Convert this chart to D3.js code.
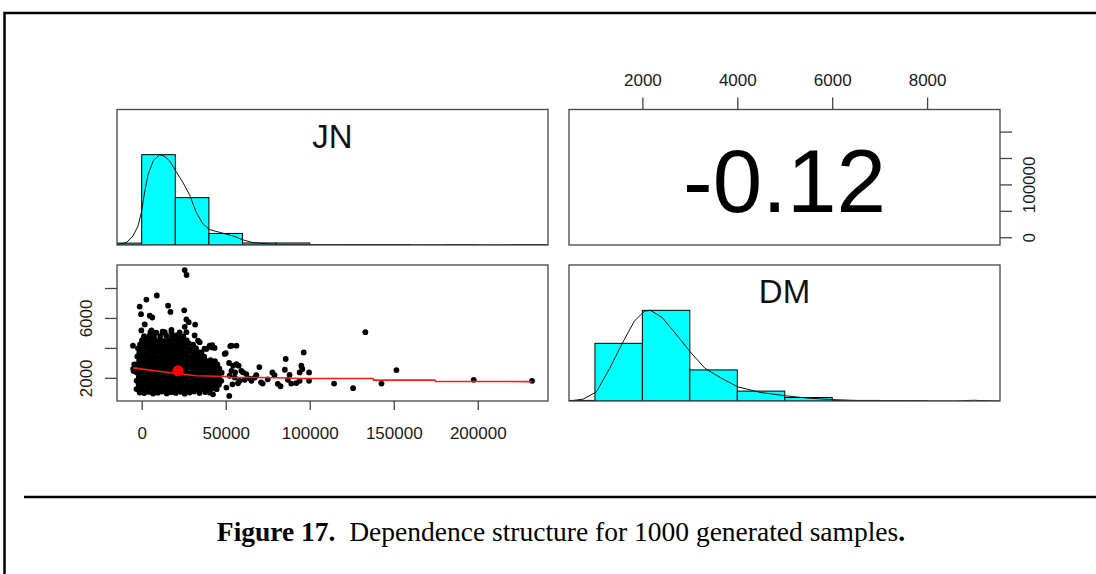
<!DOCTYPE html>
<html>
<head>
<meta charset="utf-8">
<script src="https://cdn.jsdelivr.net/npm/d3@7"></script>
<style>
  html, body { margin: 0; padding: 0; background: #fff; }
  svg { display: block; }
</style>
</head>
<body>
<svg id="fig" width="1096" height="574"></svg>
<script>
// ---------------- data ----------------
const varNames = ["JN", "DM"];
const corrLabel = "-0.12";

// histogram of JN (bin edges and counts)
const jnBreaks = [-20000, 0, 20000, 40000, 60000, 80000, 100000, 120000, 140000, 160000, 180000, 200000, 220000, 240000];
const jnCounts = [12, 578, 303, 74, 13, 13, 1, 2, 2, 0, 1, 0, 1];
// kernel density of JN (scaled so the peak is 1)
const jnDensX = [-14700, -9100, -5200, -2200, -200, 1800, 3800, 6800, 10700, 13700, 16700, 20600, 24600, 28600, 32500, 36500, 40500, 46400, 54400, 60300, 66300, 80200, 100000, 140000, 241800];
const jnDensY = [0.007, 0.026, 0.10, 0.21, 0.36, 0.59, 0.78, 0.93, 1.0, 0.98, 0.93, 0.81, 0.69, 0.55, 0.36, 0.23, 0.17, 0.14, 0.10, 0.056, 0.026, 0.007, 0.004, 0.002, 0.001];

// histogram of DM
const dmBreaks = [0, 1000, 2000, 3000, 4000, 5000, 6000, 7000, 8000, 9000, 10000];
const dmCounts = [3, 297, 467, 160, 51, 18, 3, 1, 0, 0];
// kernel density of DM (scaled so the peak is 1)
const dmDensX = [454, 750, 1030, 1310, 1580, 1830, 2040, 2170, 2420, 2690, 3010, 3320, 3670, 4010, 4500, 5040, 5470, 6010, 6580, 7560, 8600, 8860, 8990, 9120, 9536];
const dmDensY = [0.0, 0.02, 0.10, 0.36, 0.64, 0.88, 0.99, 1.0, 0.92, 0.75, 0.54, 0.36, 0.25, 0.156, 0.093, 0.056, 0.033, 0.015, 0.004, 0.0, 0.0, 0.006, 0.008, 0.005, 0.0];

// JN / DM sample pairs: the dense core
const coreSamples = [
  [-1200,1020],[1500,980],[4300,1060],[6800,950],[9600,1010],[12100,1080],[14900,960],[17400,1040],[20300,990],[23000,1070],[25600,940],[28500,1020],[31200,1090],[34400,980],[37800,1050],[40600,1010],
  [-3100,1250],[-400,1290],[2300,1230],[4900,1310],[7600,1260],[10200,1280],[12800,1240],[15500,1300],[18100,1270],[20800,1220],[23300,1290],[26100,1260],[28700,1310],[31400,1250],[34000,1280],[36700,1230],[39300,1270],[42000,1300],[44600,1240],
  [-1800,1540],[900,1510],[3600,1570],[6200,1530],[8800,1560],[11500,1500],[14200,1550],[16800,1580],[19400,1520],[22100,1560],[24700,1530],[27400,1590],[30000,1510],[32700,1550],[35300,1570],[38000,1520],[40600,1560],[43300,1500],[46000,1540],
  [-3000,1810],[-300,1780],[2400,1840],[5000,1800],[7700,1830],[10300,1770],[13000,1820],[15600,1850],[18300,1790],[20900,1830],[23600,1800],[26200,1860],[28900,1780],[31500,1820],[34200,1840],[36800,1790],[39500,1830],[42100,1770],[44800,1820],[47400,1800],
  [-1700,2080],[1000,2050],[3700,2110],[6300,2070],[9000,2100],[11600,2040],[14300,2090],[16900,2120],[19600,2060],[22200,2100],[24900,2070],[27500,2130],[30200,2050],[32800,2090],[35500,2110],[38100,2060],[40800,2100],[43400,2040],[46100,2080],
  [-2900,2350],[-200,2320],[2500,2380],[5100,2340],[7800,2370],[10400,2310],[13100,2360],[15700,2390],[18400,2330],[21000,2370],[23700,2340],[26300,2400],[29000,2320],[31600,2360],[34300,2380],[36900,2330],[39600,2370],[42200,2310],[44900,2360],[47600,2340],
  [-1600,2620],[1100,2590],[3800,2650],[6400,2610],[9100,2640],[11700,2580],[14400,2630],[17000,2660],[19700,2600],[22300,2640],[25000,2610],[27600,2670],[30300,2590],[32900,2630],[35600,2650],[38200,2600],[40900,2640],[43500,2580],[46200,2620],
  [-2800,2890],[-100,2860],[2600,2920],[5200,2880],[7900,2910],[10500,2850],[13200,2900],[15800,2930],[18500,2870],[21100,2910],[23800,2880],[26400,2940],[29100,2860],[31700,2900],[34400,2920],[37000,2870],[39700,2910],[42300,2850],[45000,2900],
  [-1500,3160],[1200,3130],[3900,3190],[6500,3150],[9200,3180],[11800,3120],[14500,3170],[17100,3200],[19800,3140],[22400,3180],[25100,3150],[27700,3210],[30400,3130],[33000,3170],[35700,3190],[38300,3140],[41000,3180],[43600,3120],
  [-2600,3430],[100,3400],[2800,3460],[5400,3420],[8100,3450],[10700,3390],[13400,3440],[16000,3470],[18700,3410],[21300,3450],[24000,3420],[26600,3480],[29300,3400],[31900,3440],[34600,3460],[37200,3410],
  [-1400,3700],[1300,3670],[4000,3730],[6600,3690],[9300,3720],[11900,3660],[14600,3710],[17200,3740],[19900,3680],[22500,3720],[25200,3690],[27800,3750],[30500,3670],[33100,3710],[35600,3690],
  [-2200,3970],[500,3940],[3200,4000],[5800,3960],[8500,3990],[11100,3930],[13800,3980],[16400,4010],[19100,3950],[21700,3990],[24400,3960],[27000,4020],[29700,3940],[32300,3980],
  [-1000,4240],[1700,4210],[4400,4270],[7000,4230],[9700,4260],[12300,4200],[15000,4250],[17600,4280],[20300,4220],[22900,4260],[25600,4230],[28200,4290],[30600,4210],
  [200,4510],[2900,4480],[5600,4540],[8200,4500],[10900,4530],[13500,4470],[16200,4520],[18800,4550],[21500,4490],[24100,4530],[26800,4500],
  [1400,4780],[4700,4810],[7300,4750],[11000,4790],[14600,4820],[18000,4760],[21900,4800],[24800,4770],
  [5200,5060],[8600,5020],[12400,5080],[17700,5050],[22600,5030]
];

// scattered points around the core
const fringeSamples = [
  [25600,9200],[26700,8870],[9000,7500],[2800,7230],[-1200,6760],[-400,6250],[15700,6820],[17100,6400],[25300,6510],
  [4800,6150],[6300,6030],[26600,5900],[31800,5560],[25600,5410],[28000,5720],[1800,5570],[5800,5170],[-200,5170],
  [6700,4830],[2800,4600],[13700,5050],[17700,5210],[20600,4830],[26600,5050],[31500,4830],[33500,4490],[34500,4380],
  [38500,3930],[41500,4040],[43400,4000],[-5200,4150],[49400,3600],[53400,4150],[56400,4150],[52700,4120],[50000,3650],
  [40400,4150],[42000,4180],[37400,3950],[34700,3700],[42400,900],[52100,790],[-5100,2600],[-4800,2450],[-4400,2900],
  [52000,2990],[54400,2810],[56400,2920],[57700,2810],[53400,2470],[55600,2360],[59300,2470],[60300,2360],[62300,2250],
  [52400,2140],[55400,2020],[58300,1800],[61300,1870],[64300,1950],[65300,1800],[67300,2020],[68200,2180],[54000,1570],
  [57300,1640],[50400,1350]
];

// sparse points in the long right tail
const tailSamples = [
  [96400,3700],[85700,3260],[95000,2810],[95600,2590],[94000,2360],[99600,2360],[94000,1800],[99600,1800],[89000,1620],
  [85200,2540],[88000,2200],[87000,1870],[81000,1600],[82600,1440],[77800,2360],[79000,2180],[70000,2720],[71000,1700],
  [72000,1620],[75000,1900],[92000,1650],
  [114500,1620],[125800,1310],[133100,5050],[142700,1620],[151600,2520],[197600,1865],[232300,1800]
];

// smoothed (lowess) trend of DM on JN
const lowJN = [-5200, -4200, 20600, 32500, 50400, 52400, 70200, 88000, 94000, 137700, 138000, 174400, 175000, 232300];
const lowDM = [2660, 2650, 2290, 2140, 2090, 2030, 2020, 1990, 1960, 1955, 1850, 1845, 1755, 1750];
const meanJN = 21600, meanDM = 2470;

// axis ticks and the labels printed at them
const jnTicks = [0, 50000, 100000, 150000, 200000];
const jnBottomLabels = ["0", "50000", "100000", "150000", "200000"];
const jnRightLabels = ["0", "", "100000", "", ""];
const dmTicks = [2000, 4000, 6000, 8000];
const dmTopLabels = ["2000", "4000", "6000", "8000"];
const dmLeftLabels = ["2000", "", "6000", ""];

const captionBold = "Figure 17.";
const captionText = "Dependence structure for 1000 generated samples";

// ---------------- layout ----------------
const svg = d3.select("#fig");
const sans = "'Liberation Sans', Arial, sans-serif";
const serif = "'Liberation Serif', 'Times New Roman', serif";
const boxColor = "#444";
const tickFont = "17px";

const colX = [[117, 548], [569, 1000]];
const rowY = [[109.5, 245], [265, 401]];

const allSamples = coreSamples.concat(fringeSamples, tailSamples);
function padded(ext) { const r = ext[1] - ext[0]; return [ext[0] - 0.04 * r, ext[1] + 0.04 * r]; }
const jnDom = padded(d3.extent(allSamples, d => d[0]));
const dmDom = padded(d3.extent(allSamples, d => d[1]));

const xJN = d3.scaleLinear().domain(jnDom).range(colX[0]);
const xDM = d3.scaleLinear().domain(dmDom).range(colX[1]);
const yJN = d3.scaleLinear().domain(jnDom).range([rowY[0][1], rowY[0][0]]);
const yDM = d3.scaleLinear().domain(dmDom).range([rowY[1][1], rowY[1][0]]);

const defs = svg.append("defs");
function clipFor(id, xr, yr) {
  defs.append("clipPath").attr("id", id).append("rect")
    .attr("x", xr[0]).attr("y", yr[0]).attr("width", xr[1] - xr[0]).attr("height", yr[1] - yr[0]);
  return `url(#${id})`;
}
function drawBox(xr, yr) {
  svg.append("rect").attr("x", xr[0]).attr("y", yr[0])
    .attr("width", xr[1] - xr[0]).attr("height", yr[1] - yr[0])
    .attr("fill", "none").attr("stroke", boxColor).attr("stroke-width", 1.3);
}

// diagonal panel: histogram + density + variable name
function drawHistPanel(xs, xr, yr, breaks, counts, densX, densY, name, clipId) {
  const clip = clipFor(clipId, xr, yr);
  const hy = d3.scaleLinear().domain([0, 1.5]).range([yr[1], yr[0]]);
  const maxC = d3.max(counts);
  const bins = counts.map((c, i) => ({ x0: breaks[i], x1: breaks[i + 1], c }))
    .filter(b => b.c > 0);
  const g = svg.append("g").attr("clip-path", clip);
  g.selectAll("rect").data(bins).join("rect")
    .attr("x", b => xs(b.x0)).attr("width", b => xs(b.x1) - xs(b.x0))
    .attr("y", b => hy(b.c / maxC)).attr("height", b => yr[1] - hy(b.c / maxC))
    .attr("fill", "#00ffff").attr("stroke", "#000").attr("stroke-width", 1);
  const line = d3.line().x(i => xs(densX[i])).y(i => hy(densY[i]));
  g.append("path").attr("d", line(d3.range(densX.length)))
    .attr("fill", "none").attr("stroke", "#111").attr("stroke-width", 1);
  drawBox(xr, yr);
  svg.append("text").attr("x", (xr[0] + xr[1]) / 2).attr("y", yr[0] + 38)
    .attr("text-anchor", "middle").style("font-family", sans).style("font-size", "33px")
    .attr("fill", "#111").text(name);
}

drawHistPanel(xJN, colX[0], rowY[0], jnBreaks, jnCounts, jnDensX, jnDensY, varNames[0], "clipJN");
drawHistPanel(xDM, colX[1], rowY[1], dmBreaks, dmCounts, dmDensX, dmDensY, varNames[1], "clipDM");

// upper panel: correlation
drawBox(colX[1], rowY[0]);
svg.append("text").attr("x", (colX[1][0] + colX[1][1]) / 2).attr("y", 211.5)
  .attr("text-anchor", "middle").style("font-family", sans).style("font-size", "89px")
  .attr("fill", "#000").text(corrLabel);

// lower panel: scatter, lowess, mean
const clipS = clipFor("clipScatter", colX[0], rowY[1]);
const gs = svg.append("g").attr("clip-path", clipS);
gs.selectAll("circle.pt").data(allSamples).join("circle").attr("class", "pt")
  .attr("cx", d => xJN(d[0])).attr("cy", d => yDM(d[1])).attr("r", 2.9).attr("fill", "#000");
const low = d3.line().x(i => xJN(lowJN[i])).y(i => yDM(lowDM[i]));
gs.append("path").attr("d", low(d3.range(lowJN.length)))
  .attr("fill", "none").attr("stroke", "#ff1a1a").attr("stroke-width", 1.6);
gs.append("circle").attr("cx", xJN(meanJN)).attr("cy", yDM(meanDM)).attr("r", 5.5).attr("fill", "#ff0000");
drawBox(colX[0], rowY[1]);

// ---------------- axes ----------------
function styleAxis(g) {
  g.select(".domain").remove();
  g.selectAll(".tick line").attr("stroke", boxColor).attr("stroke-width", 1.3);
  g.selectAll(".tick text").style("font-family", sans).style("font-size", tickFont).attr("fill", "#1a1a1a");
}

// bottom: JN
svg.append("g").attr("transform", `translate(0,${rowY[1][1]})`)
  .call(d3.axisBottom(xJN).tickValues(jnTicks).tickSize(9).tickPadding(17)
    .tickFormat((d, i) => jnBottomLabels[i]))
  .call(styleAxis);

// left: DM (labels parallel to the axis)
svg.append("g").attr("transform", `translate(${colX[0][0]},0)`)
  .call(d3.axisLeft(yDM).tickValues(dmTicks).tickSize(12)
    .tickFormat((d, i) => dmLeftLabels[i]))
  .call(styleAxis)
  .call(g => g.selectAll(".tick text")
    .attr("transform", "rotate(-90)").attr("x", 0).attr("y", -25).attr("dy", null)
    .attr("text-anchor", "middle"));

// top: DM
svg.append("g").attr("transform", `translate(0,${rowY[0][0]})`)
  .call(d3.axisTop(xDM).tickValues(dmTicks).tickSize(12).tickPadding(12)
    .tickFormat((d, i) => dmTopLabels[i]))
  .call(styleAxis);

// right: JN (labels parallel to the axis)
svg.append("g").attr("transform", `translate(${colX[1][1]},0)`)
  .call(d3.axisRight(yJN).tickValues(jnTicks).tickSize(12)
    .tickFormat((d, i) => jnRightLabels[i]))
  .call(styleAxis)
  .call(g => g.selectAll(".tick text")
    .attr("transform", "rotate(-90)").attr("x", 0).attr("y", 35).attr("dy", null)
    .attr("text-anchor", "middle"));

// ---------------- figure frame and caption ----------------
svg.append("path").attr("d", "M4.5,574 V13 H1096").attr("fill", "none")
  .attr("stroke", "#000").attr("stroke-width", 2.5);
svg.append("line").attr("x1", 24).attr("x2", 1096).attr("y1", 497).attr("y2", 497)
  .attr("stroke", "#000").attr("stroke-width", 2.5);

const cap = svg.append("text").attr("x", 561).attr("y", 541).attr("text-anchor", "middle")
  .style("font-family", serif).style("font-size", "27.5px").attr("fill", "#000");
cap.append("tspan").style("font-weight", "bold").text(captionBold);
cap.append("tspan").text("\u00a0 " + captionText);
cap.append("tspan").style("font-weight", "bold").text(".");
</script>
</body>
</html>
